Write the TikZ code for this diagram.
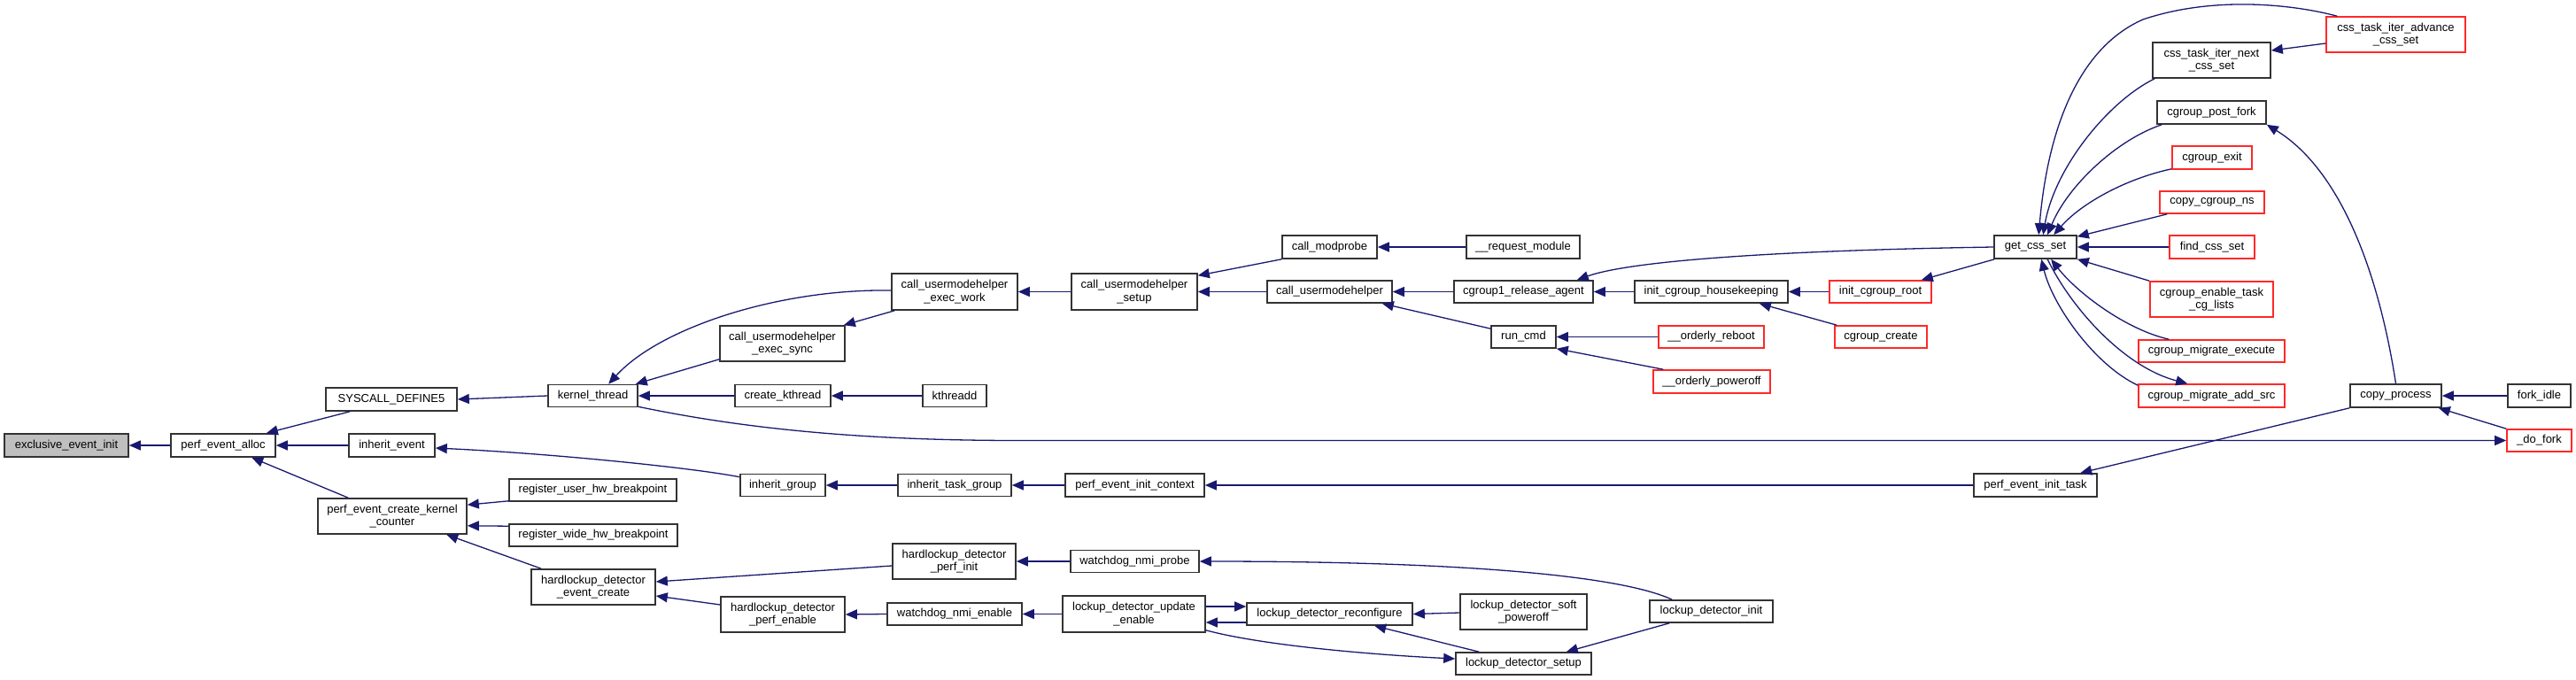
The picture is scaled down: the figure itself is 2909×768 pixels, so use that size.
\documentclass[tikz,border=0pt]{standalone}
\usepackage{fontspec}
\setmainfont{Liberation Sans}
\usetikzlibrary{arrows.meta,calc}
\definecolor{edgec}{RGB}{25,25,112}
\definecolor{nodegray}{RGB}{191,191,191}
\definecolor{nodered}{RGB}{255,40,40}
\begin{document}
\begin{tikzpicture}[x=1pt,y=-1pt,
  fn/.style={draw=black!80, line width=1.6pt, fill=white, inner sep=0pt, align=center, font=\fontsize{13}{14.3}\selectfont},
  rfn/.style={fn, draw=nodered},
  ed/.style={draw=edgec, line width=1.3pt, -{Triangle[length=13pt,width=11pt]}}]
\useasboundingbox (0,0) rectangle (2909,768);

\node[fn,fill=nodegray,minimum width=140pt,minimum height=26pt] (eei) at (75,503) {exclusive\_event\_init};
\node[fn,minimum width=118pt,minimum height=26pt] (pea) at (252,503) {perf\_event\_alloc};
\node[fn,minimum width=148pt,minimum height=26pt] (sys) at (442,451) {SYSCALL\_DEFINE5};
\node[fn,minimum width=97pt,minimum height=26pt] (ie) at (442.5,503) {inherit\_event};
\node[fn,minimum width=168pt,minimum height=40pt] (pecc) at (443,583) {perf\_event\_create\_kernel\\\_counter};
\node[fn,minimum width=189pt,minimum height=25pt] (ruhb) at (669.5,553.5) {register\_user\_hw\_breakpoint};
\node[fn,minimum width=190pt,minimum height=25pt] (rwhb) at (670,604.5) {register\_wide\_hw\_breakpoint};
\node[fn,minimum width=140pt,minimum height=40pt] (hdec) at (670,663) {hardlockup\_detector\\\_event\_create};
\node[fn,minimum width=101pt,minimum height=25pt] (kt) at (669.5,447) {kernel\_thread};
\node[fn,minimum width=141pt,minimum height=40pt] (cues) at (883.5,388) {call\_usermodehelper\\\_exec\_sync};
\node[fn,minimum width=108pt,minimum height=25pt] (ck) at (884,447) {create\_kthread};
\node[fn,minimum width=96pt,minimum height=25pt] (ig) at (884,548) {inherit\_group};
\node[fn,minimum width=140pt,minimum height=40pt] (hdpe) at (884,694) {hardlockup\_detector\\\_perf\_enable};
\node[fn,minimum width=139pt,minimum height=40pt] (hdpi) at (1077.5,634) {hardlockup\_detector\\\_perf\_init};
\node[fn,minimum width=142pt,minimum height=41pt] (cuew) at (1078,329.5) {call\_usermodehelper\\\_exec\_work};
\node[fn,minimum width=72pt,minimum height=25pt] (kthd) at (1078,447) {kthreadd};
\node[fn,minimum width=128pt,minimum height=25pt] (itg) at (1078,548) {inherit\_task\_group};
\node[fn,minimum width=152pt,minimum height=25pt] (wne) at (1078,693.5) {watchdog\_nmi\_enable};
\node[fn,minimum width=145pt,minimum height=25pt] (wnp) at (1281.5,634) {watchdog\_nmi\_probe};
\node[fn,minimum width=142pt,minimum height=41pt] (cus) at (1281,329.5) {call\_usermodehelper\\\_setup};
\node[fn,minimum width=157pt,minimum height=26pt] (peic) at (1281.5,548) {perf\_event\_init\_context};
\node[fn,minimum width=161pt,minimum height=41pt] (lue) at (1280.5,693.5) {lockup\_detector\_update\\\_enable};
\node[fn,minimum width=107pt,minimum height=26pt] (cm) at (1501.5,279) {call\_modprobe};
\node[fn,minimum width=141pt,minimum height=25pt] (cu) at (1501.5,329.5) {call\_usermodehelper};
\node[fn,minimum width=187pt,minimum height=25pt] (ldr) at (1501.5,693.5) {lockup\_detector\_reconfigure};
\node[fn,minimum width=128pt,minimum height=26pt] (rm) at (1720,279) {\_\_request\_module};
\node[fn,minimum width=157pt,minimum height=25pt] (cra) at (1720.5,329.5) {cgroup1\_release\_agent};
\node[fn,minimum width=73pt,minimum height=25pt] (rc) at (1720.5,380.5) {run\_cmd};
\node[fn,minimum width=143pt,minimum height=40pt] (ldsp) at (1720.5,691) {lockup\_detector\_soft\\\_poweroff};
\node[fn,minimum width=153pt,minimum height=25pt] (lds) at (1720.5,749.5) {lockup\_detector\_setup};
\node[fn,minimum width=173pt,minimum height=25pt] (ich) at (1932.5,329.5) {init\_cgroup\_housekeeping};
\node[rfn,minimum width=119pt,minimum height=25pt] (orb) at (1932.5,380.5) {\_\_orderly\_reboot};
\node[rfn,minimum width=132pt,minimum height=26pt] (opo) at (1933,431) {\_\_orderly\_poweroff};
\node[fn,minimum width=139pt,minimum height=25pt] (lin) at (1932.5,690.5) {lockup\_detector\_init};
\node[rfn,minimum width=115pt,minimum height=25pt] (icr) at (2123.5,329.5) {init\_cgroup\_root};
\node[rfn,minimum width=104pt,minimum height=25pt] (cc) at (2124,380.5) {cgroup\_create};
\node[fn,minimum width=93pt,minimum height=26pt] (gcs) at (2298.5,279) {get\_css\_set};
\node[fn,minimum width=139pt,minimum height=26pt] (peit) at (2298.5,548) {perf\_event\_init\_task};
\node[fn,minimum width=133pt,minimum height=40pt] (ctin) at (2497.5,68) {css\_task\_iter\_next\\\_css\_set};
\node[fn,minimum width=123pt,minimum height=26pt] (cpf) at (2497.5,127) {cgroup\_post\_fork};
\node[rfn,minimum width=90pt,minimum height=26pt] (cge) at (2498,178) {cgroup\_exit};
\node[rfn,minimum width=118pt,minimum height=25pt] (ccn) at (2498,228.5) {copy\_cgroup\_ns};
\node[rfn,minimum width=96pt,minimum height=26pt] (fcs) at (2498,279) {find\_css\_set};
\node[rfn,minimum width=139pt,minimum height=40pt] (cetcl) at (2497.5,338) {cgroup\_enable\_task\\\_cg\_lists};
\node[rfn,minimum width=165pt,minimum height=25pt] (cme) at (2497.5,396.5) {cgroup\_migrate\_execute};
\node[rfn,minimum width=165pt,minimum height=26pt] (cmas) at (2497.5,447) {cgroup\_migrate\_add\_src};
\node[rfn,minimum width=157pt,minimum height=40pt] (ctia) at (2705.5,39) {css\_task\_iter\_advance\\\_css\_set};
\node[fn,minimum width=103pt,minimum height=26pt] (cp) at (2705.5,447) {copy\_process};
\node[fn,minimum width=71pt,minimum height=26pt] (fi) at (2867.5,447) {fork\_idle};
\node[rfn,minimum width=73pt,minimum height=25pt] (df) at (2867.5,497.5) {\_do\_fork};

\draw[ed] (pea.west) -- (eei.east);
\draw[ed] ($(sys.south west)+(28,0)$) -- ($(pea.north east)+(-11,0)$);
\draw[ed] (ie.west) -- (pea.east);
\draw[ed] ($(pecc.north west)+(35,0)$) -- ($(pea.south west)+(92,0)$);
\draw[ed] (kt.west) -- (sys.east);
\draw[ed] ($(ig.north west)+(0,4)$) .. controls (780,528) and (620,512) .. ($(ie.east)+(0,3)$);
\draw[ed] ($(ruhb.south west)+(0,-1)$) -- ($(pecc.north east)+(0,8)$);
\draw[ed] ($(rwhb.north west)+(0,3)$) -- ($(pecc.south east)+(0,-10)$);
\draw[ed] ($(hdec.north west)+(12,0)$) -- ($(pecc.south west)+(146,0)$);
\draw[ed] ($(cuew.west)+(0,-1.5)$) .. controls (880,326) and (745,370) .. ($(kt.north west)+(69,0)$);
\draw[ed] ($(cues.south west)+(0,-3)$) -- ($(kt.north east)+(-3,0)$);
\draw[ed] (ck.west) -- (kt.east);
\draw[ed] (kthd.west) -- (ck.east);
\draw[ed] ($(kt.south east)+(0,-1)$) .. controls (830,482) and (960,497.5) .. (1150,497.5) -- (df.west);
\draw[ed] ($(cuew.south west)+(4,0)$) -- ($(cues.north east)+(-2,0)$);
\draw[ed] (cus.west) -- (cuew.east);
\draw[ed] (cm.south west) -- ($(cus.north east)+(0,3)$);
\draw[ed] (cu.west) -- (cus.east);
\draw[ed] (rm.west) -- (cm.east);
\draw[ed] (cra.west) -- (cu.east);
\draw[ed] ($(rc.north west)+(0,4)$) -- ($(cu.south east)+(-12,0)$);
\draw[ed] (ich.west) -- (cra.east);
\draw[ed] (gcs.west) .. controls (2000,283) and (1840,295) .. ($(cra.north east)+(-19,0)$);
\draw[ed] (icr.west) -- (ich.east);
\draw[ed] ($(cc.north west)+(3,0)$) -- ($(ich.south east)+(-33,0)$);
\draw[ed] ($(gcs.south west)+(1,0)$) -- ($(icr.north east)+(-12,0)$);
\draw[ed] (orb.west) -- (rc.east);
\draw[ed] ($(opo.north west)+(12,0)$) -- (rc.south east);
\draw[ed] ($(ctia.north west)+(13,0)$) .. controls (2590,5) and (2500,-5) .. (2420,22) .. controls (2345,55) and (2312,150) .. ($(gcs.north west)+(51,0)$);
\draw[ed] ($(ctin.south west)+(3,0)$) .. controls (2380,115) and (2320,190) .. ($(gcs.north west)+(56,0)$);
\draw[ed] ($(cpf.south west)+(6,0)$) .. controls (2390,158) and (2335,210) .. ($(gcs.north west)+(61,0)$);
\draw[ed] ($(cge.south west)+(0,-1)$) .. controls (2400,202) and (2350,230) .. ($(gcs.north west)+(68,0)$);
\draw[ed] ($(ccn.south west)+(9,0)$) -- ($(gcs.north east)+(0,2)$);
\draw[ed] (fcs.west) -- (gcs.east);
\draw[ed] (cetcl.north west) -- (gcs.south east);
\draw[ed] ($(cme.north west)+(35,0)$) .. controls (2400,372) and (2345,330) .. ($(gcs.south west)+(65,0)$);
\draw[ed] ($(cmas.north west)+(0,2)$) .. controls (2365,412) and (2318,345) .. ($(gcs.south west)+(54,0)$);
\draw[ed] ($(gcs.south west)+(61,0)$) .. controls (2340,350) and (2400,415) .. ($(cmas.north west)+(56,0)$);
\draw[ed] (cp.north) .. controls (2685,300) and (2640,190) .. (cpf.south east);
\draw[ed] (fi.west) -- (cp.east);
\draw[ed] (df.north west) -- ($(cp.south east)+(-4,0)$);
\draw[ed] (cp.south west) -- ($(peit.north west)+(121,0)$);
\draw[ed] ($(ctia.west)+(0,10)$) -- ($(ctin.east)+(0,-11)$);
\draw[ed] (itg.west) -- (ig.east);
\draw[ed] (peic.west) -- (itg.east);
\draw[ed] (peit.west) -- (peic.east);
\draw[ed] ($(hdpi.west)+(0,5)$) -- ($(hdec.east)+(0,-6)$);
\draw[ed] ($(hdpe.west)+(0,-11)$) -- ($(hdec.east)+(0,10)$);
\draw[ed] (wnp.west) -- (hdpi.east);
\draw[ed] (wne.west) -- (hdpe.east);
\draw[ed] (lue.west) -- (wne.east);
\draw[ed] ($(lin.north west)+(26,0)$) .. controls (1830,650) and (1650,634) .. (wnp.east);
\draw[ed] ($(ldr.west)+(0,9.5)$) -- ($(lue.east)+(0,9.5)$);
\draw[ed] ($(lue.east)+(0,-8.5)$) -- ($(ldr.west)+(0,-8.5)$);
\draw[ed] ($(ldsp.west)+(0,1)$) -- (ldr.east);
\draw[ed] ($(lds.north west)+(27,0)$) -- ($(ldr.south west)+(145,0)$);
\draw[ed] ($(lue.south east)+(0,-3)$) .. controls (1430,730) and (1560,740) .. ($(lds.west)+(0,-5.5)$);
\draw[ed] ($(lin.south west)+(23,0)$) -- ($(lds.north east)+(-29,0)$);
\end{tikzpicture}
\end{document}
